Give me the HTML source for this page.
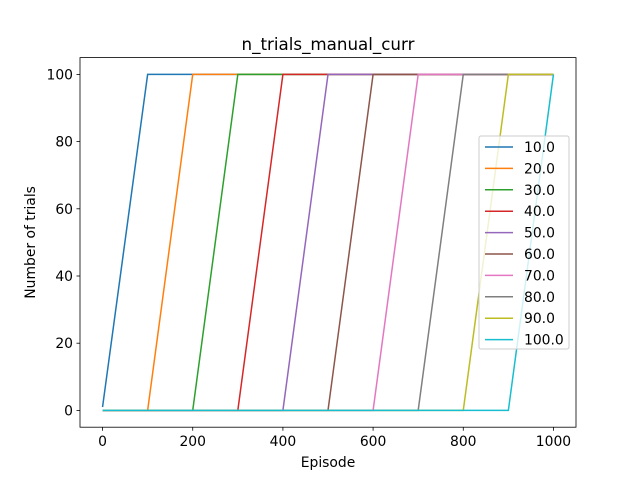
<!DOCTYPE html>
<html><head><meta charset="utf-8"><style>
body{margin:0;background:#fff}
svg text{font-family:"DejaVu Sans","Liberation Sans",sans-serif;fill:#000}
</style></head><body>
<svg id="c" width="640" height="480" xmlns="http://www.w3.org/2000/svg">
<rect width="640" height="480" fill="#fff"/>
<text x="328" y="50" font-size="16.7" text-anchor="middle">n_trials_manual_curr</text>
<g id="plot"></g>
<rect x="80" y="57.6" width="496" height="369.6" fill="none" stroke="#000" stroke-width="0.8"/>
<text x="328" y="467" font-size="13.9" text-anchor="middle">Episode</text>
<text transform="translate(35,242.4) rotate(-90)" font-size="13.9" text-anchor="middle">Number of trials</text>
<g id="legend"></g>
</svg>
<script>
const labels=["10.0","20.0","30.0","40.0","50.0","60.0","70.0","80.0","90.0","100.0"];
const starts=[0,100,200,300,400,500,600,700,800,900];
const ends=[100,200,300,400,500,600,700,800,900,1000];
const startVals=[1,0,0,0,0,0,0,0,0,0];
const colors=["#1f77b4","#ff7f0e","#2ca02c","#d62728","#9467bd","#8c564b","#e377c2","#7f7f7f","#bcbd22","#17becf"];
const xTicks=[0,200,400,600,800,1000];
const yTicks=[0,20,40,60,80,100];
const NS="http://www.w3.org/2000/svg";
const X=v=>80+(v+50)*496/1100;
const Y=v=>427.2-(v+5)*369.6/110;
const plot=document.getElementById('plot');
function mk(t,a,p){const e=document.createElementNS(NS,t);for(const k in a)e.setAttribute(k,a[k]);p.appendChild(e);return e;}
xTicks.forEach(t=>{
 const l=mk('line',{x1:X(t),x2:X(t),y1:427.2,y2:430.7,stroke:'#000','stroke-width':0.8},plot);
 
 
 const tx=mk('text',{x:X(t),y:446,'font-size':13.9,'text-anchor':'middle'},plot);tx.textContent=t;
 
 
});
yTicks.forEach(t=>{
 const l=mk('line',{x1:76.5,x2:80,y1:Y(t),y2:Y(t),stroke:'#000','stroke-width':0.8},plot);
 
 
 const tx=mk('text',{x:73,y:Y(t)+5,'font-size':13.9,'text-anchor':'end'},plot);tx.textContent=t;
 
 
});
labels.forEach((lab,i)=>{
 const pts=[];
 if(starts[i]>0)pts.push([0,0]);
 pts.push([starts[i],startVals[i]]);
 pts.push([ends[i],100]);
 if(ends[i]<1000)pts.push([1000,100]);
 const p=mk('polyline',{points:pts.map(q=>X(q[0])+','+Y(q[1])).join(' '),fill:'none',stroke:colors[i],'stroke-width':1.5},plot);
 
 
});
const lg=document.getElementById('legend');
const box=mk('rect',{x:479,y:136,width:90,height:213,rx:2,fill:'#fff','fill-opacity':0.8,stroke:'#ccc','stroke-width':1},lg);


labels.forEach((lab,i)=>{
 const y=147+i*21.4;
 const l=mk('line',{x1:485,x2:513,y1:y,y2:y,stroke:colors[i],'stroke-width':1.5},lg);
 
 
 const t=mk('text',{x:524,y:y+5,'font-size':13.9},lg);t.textContent=lab;
 
 
});
</script>
</body></html>
